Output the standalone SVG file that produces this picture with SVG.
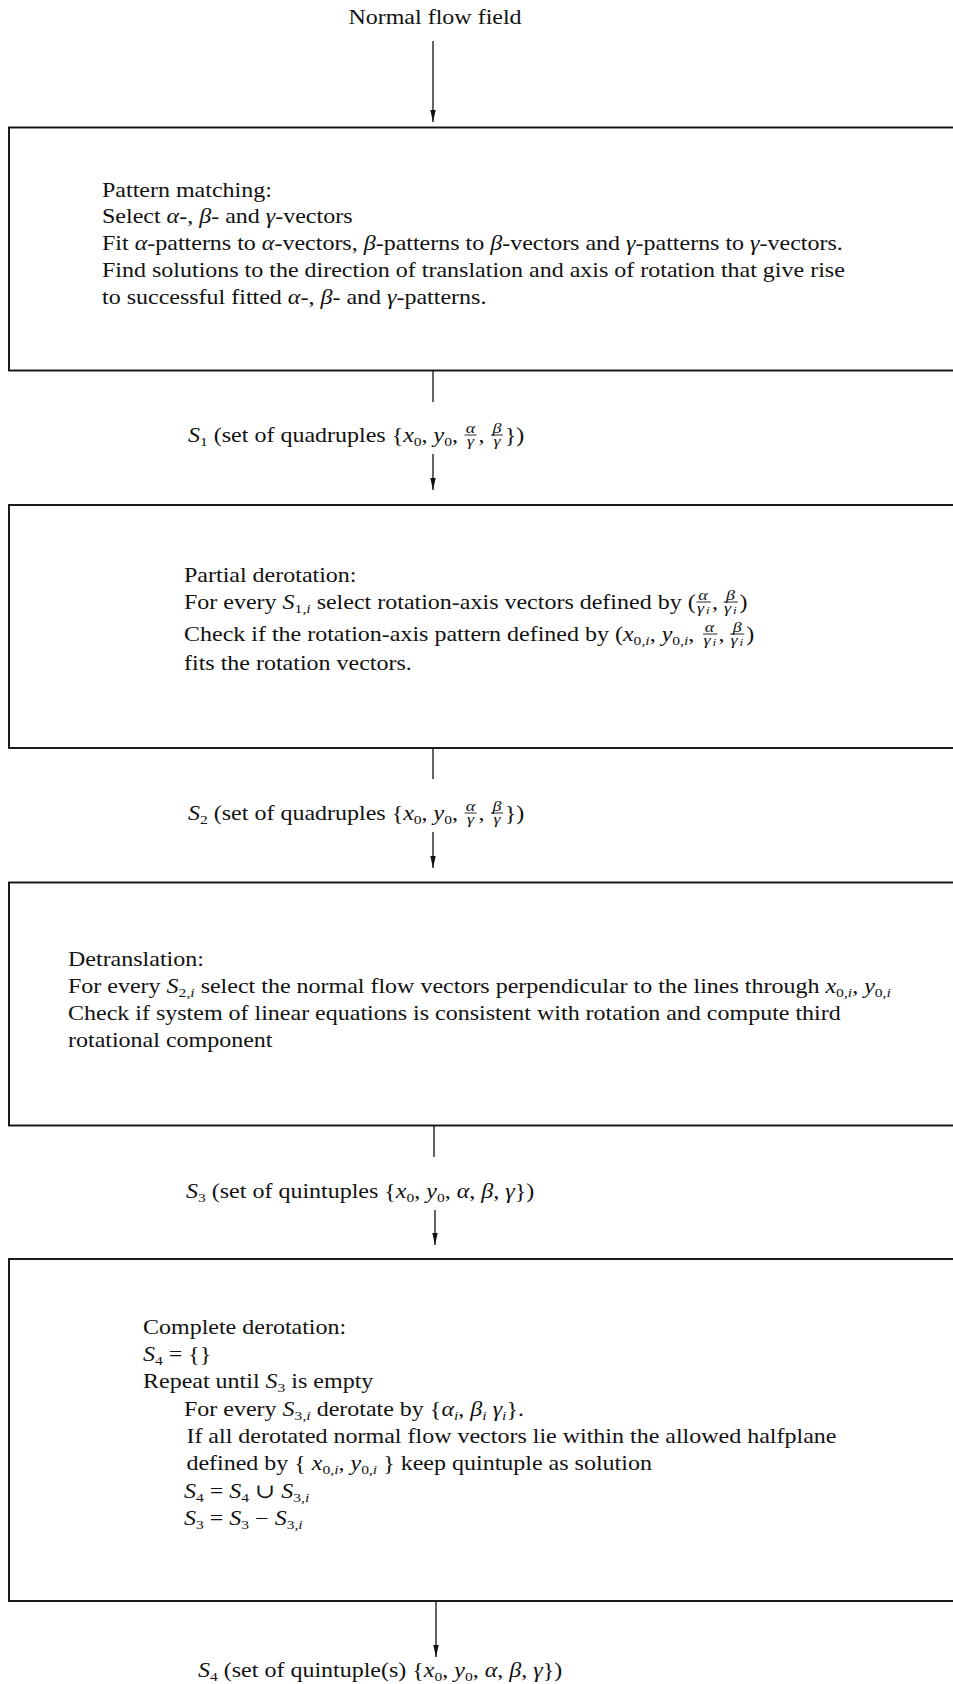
<svg xmlns="http://www.w3.org/2000/svg" width="953" height="1684" viewBox="0 0 953 1684">
<style>
text{font-family:"Liberation Serif","Times New Roman","DejaVu Serif",serif;font-size:20px;fill:#111}
.i{font-style:italic}
.s{font-size:13px}
.fr{font-size:15px;font-style:italic;text-anchor:middle}
.fd{font-size:15px;font-style:italic}
.fi{font-size:11px;font-style:italic}
.mid{text-anchor:middle}
.box{fill:#fff;stroke:#111;stroke-width:1.9}
.bar{stroke:#111;stroke-width:0.9}
.conn line{stroke:#111;stroke-width:1.3;fill:none}
</style>
<defs>
<marker id="ah" markerUnits="userSpaceOnUse" markerWidth="12" markerHeight="12" viewBox="0 0 12 12" refX="12" refY="6" orient="auto"><path d="M0,3.3 L12,6 L0,8.7 z" fill="#111"/></marker>
</defs>
<rect width="953" height="1684" fill="#fff"/>

<g id="title" transform="translate(435 0) scale(1.2 1)">
<text x="0" y="24" class="mid">Normal flow field</text>
</g>

<g id="pattern-matching">
<rect class="box" x="9" y="127.5" width="960" height="243"/>
<g transform="translate(102 0) scale(1.2 1)">
<text y="197">Pattern matching:</text>
<text y="223">Select <tspan class="i">α</tspan>-, <tspan class="i">β</tspan>- and <tspan class="i">γ</tspan>-vectors</text>
<text y="250">Fit <tspan class="i">α</tspan>-patterns to <tspan class="i">α</tspan>-vectors, <tspan class="i">β</tspan>-patterns to <tspan class="i">β</tspan>-vectors and <tspan class="i">γ</tspan>-patterns to <tspan class="i">γ</tspan>-vectors.</text>
<text y="277">Find solutions to the direction of translation and axis of rotation that give rise</text>
<text y="304">to successful fitted <tspan class="i">α</tspan>-, <tspan class="i">β</tspan>- and <tspan class="i">γ</tspan>-patterns.</text>
</g>
</g>

<g id="s1-label" transform="translate(188 0) scale(1.2 1)">
<text y="442"><tspan class="i">S</tspan><tspan class="s" dy="4">1</tspan><tspan dy="-4"> (set of quadruples {</tspan><tspan class="i">x</tspan><tspan class="s" dy="4">0</tspan><tspan dy="-4">, </tspan><tspan class="i">y</tspan><tspan class="s" dy="4">0</tspan><tspan dy="-4">,</tspan></text>
<text class="fr" x="235.5" y="433">α</text>
<line class="bar" x1="230.5" y1="435" x2="240.5" y2="435"/>
<text class="fr" x="235.5" y="446">γ</text>
<text x="242" y="442">,</text>
<text class="fr" x="257.5" y="433">β</text>
<line class="bar" x1="252.5" y1="435" x2="262.5" y2="435"/>
<text class="fr" x="257.5" y="446">γ</text>
<text x="264" y="442">})</text>
</g>

<g id="partial-derotation">
<rect class="box" x="9" y="505" width="960" height="243"/>
<g transform="translate(184 0) scale(1.2 1)">
<text y="582">Partial derotation:</text>
<text y="609">For every <tspan class="i">S</tspan><tspan class="s" dy="4">1,<tspan class="i">i</tspan></tspan><tspan dy="-4"> select rotation-axis vectors defined by (</tspan></text>
<text class="fr" x="432.5" y="600">α</text>
<line class="bar" x1="427" y1="602" x2="439" y2="602"/>
<text class="fd" x="427.5" y="613">γ<tspan class="fi" dx="1.5" dy="1">i</tspan></text>
<text x="440" y="609">,</text>
<text class="fr" x="455.5" y="600">β</text>
<line class="bar" x1="449.5" y1="602" x2="461.5" y2="602"/>
<text class="fd" x="450" y="613">γ<tspan class="fi" dx="1.5" dy="1">i</tspan></text>
<text x="463" y="609">)</text>
<text y="641">Check if the rotation-axis pattern defined by (<tspan class="i">x</tspan><tspan class="s" dy="4">0,<tspan class="i">i</tspan></tspan><tspan dy="-4">, </tspan><tspan class="i">y</tspan><tspan class="s" dy="4">0,<tspan class="i">i</tspan></tspan><tspan dy="-4">,</tspan></text>
<text class="fr" x="438" y="632">α</text>
<line class="bar" x1="432.5" y1="634" x2="444.5" y2="634"/>
<text class="fd" x="433" y="645">γ<tspan class="fi" dx="1.5" dy="1">i</tspan></text>
<text x="445.5" y="641">,</text>
<text class="fr" x="461" y="632">β</text>
<line class="bar" x1="455" y1="634" x2="467" y2="634"/>
<text class="fd" x="455.5" y="645">γ<tspan class="fi" dx="1.5" dy="1">i</tspan></text>
<text x="468.5" y="641">)</text>
<text y="670">fits the rotation vectors.</text>
</g>
</g>

<g id="s2-label" transform="translate(188 0) scale(1.2 1)">
<text y="820"><tspan class="i">S</tspan><tspan class="s" dy="4">2</tspan><tspan dy="-4"> (set of quadruples {</tspan><tspan class="i">x</tspan><tspan class="s" dy="4">0</tspan><tspan dy="-4">, </tspan><tspan class="i">y</tspan><tspan class="s" dy="4">0</tspan><tspan dy="-4">,</tspan></text>
<text class="fr" x="235.5" y="811">α</text>
<line class="bar" x1="230.5" y1="813" x2="240.5" y2="813"/>
<text class="fr" x="235.5" y="824">γ</text>
<text x="242" y="820">,</text>
<text class="fr" x="257.5" y="811">β</text>
<line class="bar" x1="252.5" y1="813" x2="262.5" y2="813"/>
<text class="fr" x="257.5" y="824">γ</text>
<text x="264" y="820">})</text>
</g>

<g id="detranslation">
<rect class="box" x="9" y="882.5" width="960" height="243"/>
<g transform="translate(68 0) scale(1.2 1)">
<text y="966">Detranslation:</text>
<text y="993">For every <tspan class="i">S</tspan><tspan class="s" dy="4">2,<tspan class="i">i</tspan></tspan><tspan dy="-4"> select the normal flow vectors perpendicular to the lines through </tspan><tspan class="i">x</tspan><tspan class="s" dy="4">0,<tspan class="i">i</tspan></tspan><tspan dy="-4">, </tspan><tspan class="i">y</tspan><tspan class="s" dy="4">0,<tspan class="i">i</tspan></tspan></text>
<text y="1020">Check if system of linear equations is consistent with rotation and compute third</text>
<text y="1047">rotational component</text>
</g>
</g>

<g id="s3-label" transform="translate(186 0) scale(1.2 1)">
<text y="1198"><tspan class="i">S</tspan><tspan class="s" dy="4">3</tspan><tspan dy="-4"> (set of quintuples {</tspan><tspan class="i">x</tspan><tspan class="s" dy="4">0</tspan><tspan dy="-4">, </tspan><tspan class="i">y</tspan><tspan class="s" dy="4">0</tspan><tspan dy="-4">, </tspan><tspan class="i">α</tspan>, <tspan class="i">β</tspan>, <tspan class="i">γ</tspan>})</text>
</g>

<g id="complete-derotation">
<rect class="box" x="9" y="1259" width="960" height="342"/>
<g transform="translate(143 0) scale(1.2 1)">
<text y="1334">Complete derotation:</text>
<text y="1361"><tspan class="i">S</tspan><tspan class="s" dy="4">4</tspan><tspan dy="-4"> = {}</tspan></text>
<text y="1388">Repeat until <tspan class="i">S</tspan><tspan class="s" dy="4">3</tspan><tspan dy="-4"> is empty</tspan></text>
</g>
<g transform="translate(184 0) scale(1.2 1)">
<text y="1416">For every <tspan class="i">S</tspan><tspan class="s" dy="4">3,<tspan class="i">i</tspan></tspan><tspan dy="-4"> derotate by {</tspan><tspan class="i">α</tspan><tspan class="s i" dy="4">i</tspan><tspan dy="-4">, </tspan><tspan class="i">β</tspan><tspan class="s i" dy="4">i</tspan><tspan dy="-4"> </tspan><tspan class="i">γ</tspan><tspan class="s i" dy="4">i</tspan><tspan dy="-4">}.</tspan></text>
<text x="2" y="1443">If all derotated normal flow vectors lie within the allowed halfplane</text>
<text x="2" y="1470">defined by { <tspan class="i">x</tspan><tspan class="s" dy="4">0,<tspan class="i">i</tspan></tspan><tspan dy="-4">, </tspan><tspan class="i">y</tspan><tspan class="s" dy="4">0,<tspan class="i">i</tspan></tspan><tspan dy="-4"> } keep quintuple as solution</tspan></text>
<text y="1498"><tspan class="i">S</tspan><tspan class="s" dy="4">4</tspan><tspan dy="-4"> = </tspan><tspan class="i">S</tspan><tspan class="s" dy="4">4</tspan><tspan dy="-4"> ∪ </tspan><tspan class="i">S</tspan><tspan class="s" dy="4">3,<tspan class="i">i</tspan></tspan></text>
<text y="1525"><tspan class="i">S</tspan><tspan class="s" dy="4">3</tspan><tspan dy="-4"> = </tspan><tspan class="i">S</tspan><tspan class="s" dy="4">3</tspan><tspan dy="-4"> − </tspan><tspan class="i">S</tspan><tspan class="s" dy="4">3,<tspan class="i">i</tspan></tspan></text>
</g>
</g>

<g id="s4-label" transform="translate(198 0) scale(1.2 1)">
<text y="1677"><tspan class="i">S</tspan><tspan class="s" dy="4">4</tspan><tspan dy="-4"> (set of quintuple(s) {</tspan><tspan class="i">x</tspan><tspan class="s" dy="4">0</tspan><tspan dy="-4">, </tspan><tspan class="i">y</tspan><tspan class="s" dy="4">0</tspan><tspan dy="-4">, </tspan><tspan class="i">α</tspan>, <tspan class="i">β</tspan>, <tspan class="i">γ</tspan>})</text>
</g>

<g id="connectors" class="conn">
<line x1="433" y1="41" x2="433" y2="122" marker-end="url(#ah)"/>
<line x1="433" y1="371" x2="433" y2="402"/>
<line x1="433" y1="454" x2="433" y2="490" marker-end="url(#ah)"/>
<line x1="433" y1="748" x2="433" y2="779"/>
<line x1="433" y1="832" x2="433" y2="868" marker-end="url(#ah)"/>
<line x1="434" y1="1125" x2="434" y2="1157"/>
<line x1="435" y1="1210" x2="435" y2="1245" marker-end="url(#ah)"/>
<line x1="436" y1="1601" x2="436" y2="1657" marker-end="url(#ah)"/>
</g>
</svg>
